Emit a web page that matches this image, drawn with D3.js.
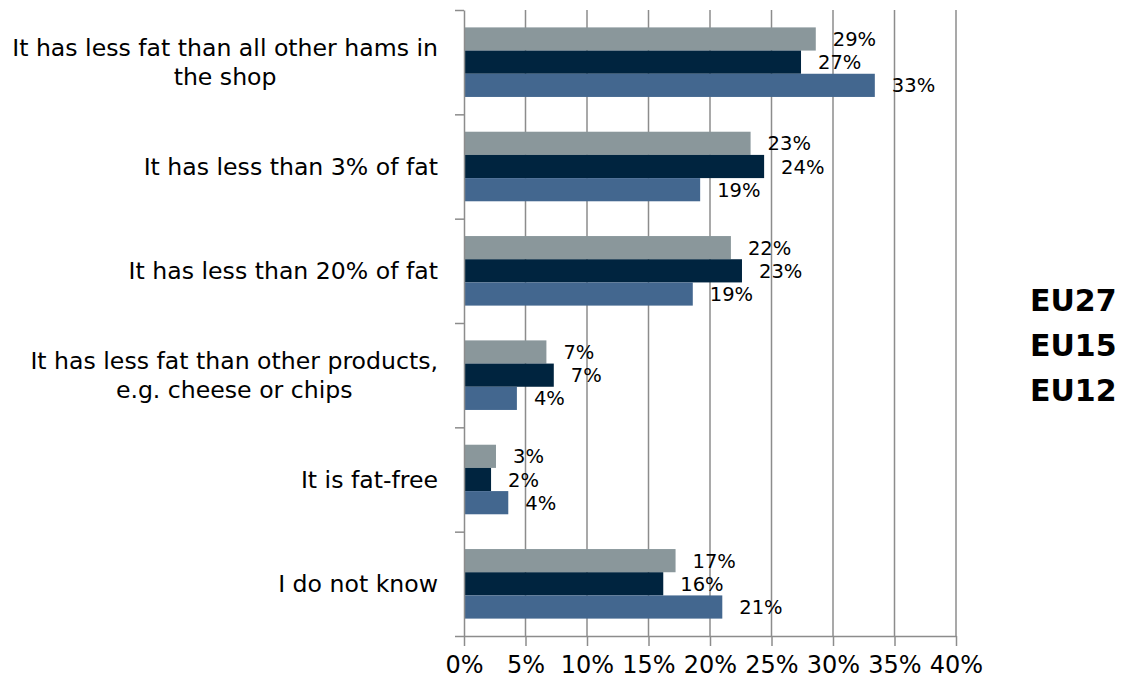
<!DOCTYPE html>
<html>
<head>
<meta charset="utf-8">
<script src="https://cdn.jsdelivr.net/npm/d3@7"></script>
<style>
  html, body { margin: 0; padding: 0; background: #fff; }
  svg { display: block; }
  text { font-family: "DejaVu Sans", Verdana, sans-serif; fill: #000; }
</style>
</head>
<body>
<svg id="chart" width="1122" height="685"></svg>
<script>
// Answer categories (top to bottom), with manual line breaks
const categories = [
  ["It has less fat than all other hams in", "the shop"],
  ["It has less than 3% of fat"],
  ["It has less than 20% of fat"],
  ["It has less fat than other products,", "e.g. cheese or chips"],
  ["It is fat-free"],
  ["I do not know"]
];

// Share of respondents (%) per region group
const seriesNames = ["EU27", "EU15", "EU12"];
const eu27 = [28.6, 23.3, 21.7, 6.7, 2.6, 17.2];
const eu15 = [27.4, 24.4, 22.6, 7.3, 2.2, 16.2];
const eu12 = [33.4, 19.2, 18.6, 4.3, 3.6, 21.0];
const seriesValues = [eu27, eu15, eu12];
const seriesColors = ["#8a979b", "#00243f", "#43678f"];

// X axis ticks
const xTicks = [0, 5, 10, 15, 20, 25, 30, 35, 40];

const svg = d3.select("#chart");
const plotLeft = 464, plotRight = 956, plotTop = 10, plotBottom = 636;
const mainFont = "\"DejaVu Sans\", Verdana, sans-serif";

const x = d3.scaleLinear().domain([0, 40]).range([plotLeft, plotRight]);
const catIdx = d3.range(categories.length);
const y = d3.scaleBand().domain(catIdx).range([plotTop, plotBottom])
  .paddingInner(1 / 3).paddingOuter(1 / 6);
const ySub = d3.scaleBand().domain(d3.range(seriesNames.length)).range([0, y.bandwidth()]);

// vertical gridlines
svg.append("g")
  .selectAll("line")
  .data(xTicks.slice(1))
  .join("line")
  .attr("x1", d => x(d)).attr("x2", d => x(d))
  .attr("y1", plotTop).attr("y2", plotBottom)
  .attr("stroke", "#8c8c8c").attr("stroke-width", 1.5);

// bars
const rows = catIdx.flatMap(i => seriesValues.map((vals, s) => ({ i, s, v: vals[i] })));
svg.append("g")
  .selectAll("rect")
  .data(rows)
  .join("rect")
  .attr("x", x(0))
  .attr("y", d => y(d.i) + ySub(d.s))
  .attr("width", d => x(d.v) - x(0))
  .attr("height", ySub.bandwidth())
  .attr("fill", d => seriesColors[d.s]);

// value labels
const fmt = d3.format(".0f");
svg.append("g")
  .selectAll("text")
  .data(rows)
  .join("text")
  .attr("x", d => x(d.v) + 17)
  .attr("y", d => y(d.i) + ySub(d.s) + ySub.bandwidth() / 2)
  .attr("dy", "0.36em")
  .style("font-size", "19.5px")
  .text(d => fmt(d.v) + "%");

// bottom axis
const xAxis = d3.axisBottom(x)
  .tickValues(xTicks)
  .tickFormat(d => d + "%")
  .tickSizeInner(10).tickSizeOuter(0).tickPadding(10);
const gx = svg.append("g").attr("transform", `translate(0,${plotBottom})`).call(xAxis);
gx.select(".domain").attr("stroke", "#8c8c8c").attr("stroke-width", 1.5);
gx.selectAll(".tick line").attr("stroke", "#8c8c8c").attr("stroke-width", 1.5);
gx.selectAll(".tick text")
  .style("font-size", "24px")
  .style("font-family", mainFont)
  .attr("fill", "#000");

// left axis with ticks between categories
const yEdge = d3.scaleLinear().domain([0, categories.length]).range([plotTop, plotBottom]);
const yAxis = d3.axisLeft(yEdge)
  .tickValues(d3.range(categories.length + 1))
  .tickFormat("")
  .tickSizeInner(9).tickSizeOuter(0);
const gy = svg.append("g").attr("transform", `translate(${plotLeft},0)`).call(yAxis);
gy.select(".domain").attr("stroke", "#8c8c8c").attr("stroke-width", 1.5);
gy.selectAll(".tick line").attr("stroke", "#8c8c8c").attr("stroke-width", 1.5);

// category labels: block right-aligned, lines centred within the block
const catG = svg.append("g");
categories.forEach((lines, i) => {
  const cy = y(i) + y.bandwidth() / 2;
  const lh = 29;
  const t = catG.append("text")
    .style("font-size", "23.6px")
    .attr("text-anchor", "middle");
  lines.forEach((ln, k) => {
    t.append("tspan")
      .attr("y", cy + (k - (lines.length - 1) / 2) * lh)
      .attr("dy", "0.36em")
      .text(ln);
  });
  let w = 0;
  t.selectAll("tspan").each(function () { w = Math.max(w, this.getComputedTextLength()); });
  const cx = 438 - w / 2;
  t.selectAll("tspan").attr("x", cx);
});

// legend (text only)
svg.append("g")
  .selectAll("text")
  .data(seriesNames)
  .join("text")
  .attr("x", 1030)
  .attr("y", (d, i) => 300 + i * 45)
  .attr("dy", "0.36em")
  .style("font-size", "30px")
  .style("font-weight", "bold")
  .text(d => d);
</script>
</body>
</html>
